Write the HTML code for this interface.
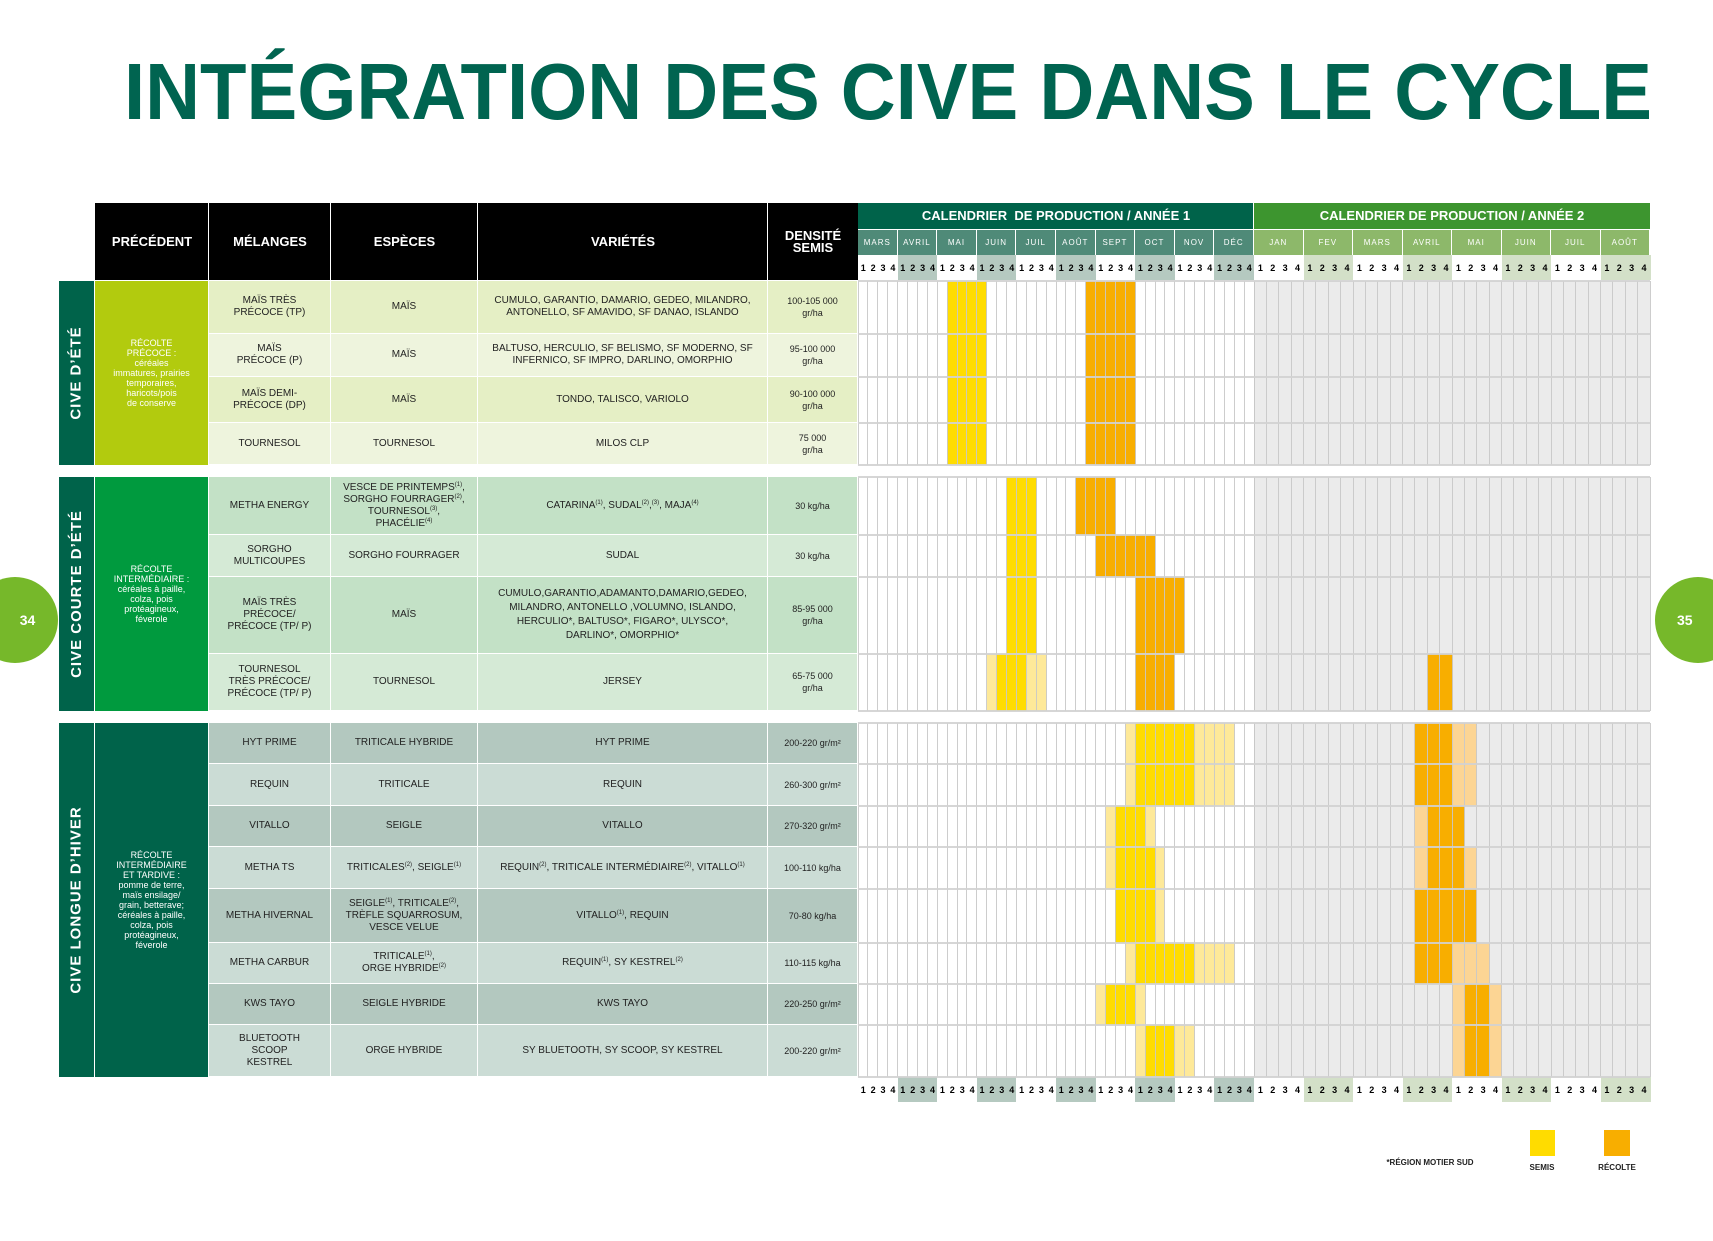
<!DOCTYPE html>
<html><head><meta charset="utf-8">
<style>
html,body{margin:0;padding:0;background:#fff;}
#c{position:relative;width:1713px;height:1241px;overflow:hidden;font-family:"Liberation Sans",sans-serif;}
.a{position:absolute;box-sizing:border-box;}
.t{display:flex;align-items:center;justify-content:center;text-align:center;color:#222;font-size:10px;line-height:12px;}
sup{font-size:6px;line-height:0;vertical-align:4px;}
.h{color:#fff;font-weight:bold;font-size:13px;line-height:12px;}
.circ{position:absolute;width:86px;height:86px;border-radius:50%;background:#76b82a;color:#fff;font-weight:bold;font-size:14px;display:flex;align-items:center;justify-content:center;}
</style></head><body>
<div id="c">
<svg class="a" style="left:0;top:0" width="1713" height="140"><text x="124" y="119" textLength="1528" lengthAdjust="spacingAndGlyphs" font-family="Liberation Sans" font-weight="bold" font-size="80" fill="#006450">INTÉGRATION DES CIVE DANS LE CYCLE</text></svg>
<div class="circ" style="left:-28px;top:577px;padding-left:25px;box-sizing:border-box;">34</div>
<div class="circ" style="left:1655px;top:577px;justify-content:flex-start;padding-left:22px;box-sizing:border-box;">35</div>
</div>
<script>
const C=document.getElementById('c');
function d(x,y,w,h,bg,html,cls,extra){const e=document.createElement('div');e.className='a '+(cls||'');e.style.cssText=`left:${x}px;top:${y}px;width:${w}px;height:${h}px;`+(bg?`background:${bg};`:'')+(extra||'');if(html)e.innerHTML='<div>'+html+'</div>';C.appendChild(e);return e;}
const X=[59,95,209,331,478,768,858];
d(95,203,763,77,'#000');
const hn=['PRÉCÉDENT','MÉLANGES','ESPÈCES','VARIÉTÉS','DENSITÉ<br>SEMIS'];
for(let i=0;i<5;i++){d(X[i+1],203,X[i+2]-X[i+1],77,null,hn[i],'t h');if(i>0)d(X[i+1]-1,203,1,77,'#fff');}
const X1=858,W1=9.9,X2=1254,W2=12.375;
d(X1,203,396,26,'#00634a','CALENDRIER&nbsp; DE PRODUCTION / ANNÉE 1','t h');
d(X2,203,396,26,'#3d952f','CALENDRIER DE PRODUCTION / ANNÉE 2','t h');
d(1253,203,1,77,'#fff');
const m1=['MARS','AVRIL','MAI','JUIN','JUIL','AOÛT','SEPT','OCT','NOV','DÉC'];
const m2=['JAN','FEV','MARS','AVRIL','MAI','JUIN','JUIL','AOÛT'];
m1.forEach((m,i)=>{d(X1+i*4*W1,229,4*W1,26,'#4f8a78',m,'t','color:#fff;font-size:8px;letter-spacing:1px;border-right:1px solid #fff;border-top:1px solid #fff;');});
m2.forEach((m,i)=>{d(X2+i*4*W2,229,4*W2,26,'#8db86a',m,'t','color:#fff;font-size:8px;letter-spacing:1px;border-right:1px solid #fff;border-top:1px solid #fff;');});
function weekRow(y,h){
 for(let i=0;i<40;i++){const hi=Math.floor(i/4)%2==1;d(X1+i*W1,y,W1+0.5,h,hi?'#b5c9c0':'#fff',String(i%4+1),'t','font-weight:bold;font-size:9px;color:#000;');}
 for(let i=0;i<32;i++){const hi=Math.floor(i/4)%2==1;d(X2+i*W2,y,W2+0.5,h,hi?'#d3e0c8':'#fff',String(i%4+1),'t','font-weight:bold;font-size:9px;color:#000;');}
}
weekRow(255,25);weekRow(1077,25);
const COL={Y:'#ffdc00',y:'#fee999',O:'#f8ae00',o:'#fcd594'};
function grid(ys,fills){
 const top=ys[0],bot=ys[ys.length-1];
 d(X1,top,396,bot-top,'#fff');d(X2,top,396,bot-top,'#ebebeb');
 for(let r=0;r<ys.length-1;r++){const f=fills[r];
  (f[0]||[]).forEach(s=>{for(let c=s[0];c<=s[1];c++)d(X1+c*W1,ys[r],W1+0.5,ys[r+1]-ys[r],COL[s[2]]);});
  (f[1]||[]).forEach(s=>{for(let c=s[0];c<=s[1];c++)d(X2+c*W2,ys[r],W2+0.5,ys[r+1]-ys[r],COL[s[2]]);});
 }
 for(let i=0;i<=40;i++)d(X1+i*W1-0.5,top,1,bot-top,'rgba(200,200,200,0.9)');
 for(let i=0;i<=32;i++)d(X2+i*W2-0.5,top,1,bot-top,'rgba(200,200,200,0.9)');
 ys.forEach(y=>{d(X1,y-1,792,2,'rgba(210,210,210,0.9)');});
}
function section(ys,stripe,prec,precBg,rows,bgs,fills){
 const top=ys[0],bot=ys[ys.length-1];
 d(59,top,35,bot-top,'#00634a','<div style="transform:rotate(-90deg);white-space:nowrap;color:#fff;font-weight:bold;font-size:15px;letter-spacing:1px;">'+stripe+'</div>','t');
 d(95,top,113,bot-top,precBg,prec,'t','color:#fff;font-size:9px;line-height:10px;padding:0 6px;');
 rows.forEach((r,i)=>{
  for(let k=0;k<4;k++){d(X[k+2],ys[i],X[k+3]-X[k+2],ys[i+1]-ys[i],bgs[i%2],r[k],'t','padding:0 4px;border-right:1px solid #fff;border-bottom:1px solid #fff;'+(k==3?'font-size:9px;':''));}
 });
 grid(ys,fills);
}
const P1='RÉCOLTE<br>PRÉCOCE :<br>céréales<br>immatures, prairies<br>temporaires,<br>haricots/pois<br>de conserve';
section([281,334,377,423,465],'CIVE D’ÉTÉ',P1,'#b2cb0e',[
 ['MAÏS TRÈS<br>PRÉCOCE (TP)','MAÏS','CUMULO, GARANTIO, DAMARIO, GEDEO, MILANDRO,<br>ANTONELLO, SF AMAVIDO, SF DANAO, ISLANDO','100-105 000<br>gr/ha'],
 ['MAÏS<br>PRÉCOCE (P)','MAÏS','BALTUSO, HERCULIO, SF BELISMO, SF MODERNO, SF<br>INFERNICO, SF IMPRO, DARLINO, OMORPHIO','95-100 000<br>gr/ha'],
 ['MAÏS DEMI-<br>PRÉCOCE (DP)','MAÏS','TONDO, TALISCO, VARIOLO','90-100 000<br>gr/ha'],
 ['TOURNESOL','TOURNESOL','MILOS CLP','75 000<br>gr/ha']],['#e5efc5','#eef4dd'],
 [0,1,2,3].map(()=>[[[9,12,'Y'],[23,27,'O']]]));
const P2='RÉCOLTE<br>INTERMÉDIAIRE :<br>céréales à paille,<br>colza, pois<br>protéagineux,<br>féverole';
section([477,535,577,654,711],'CIVE COURTE D’ÉTÉ',P2,'#009a3e',[
 ['METHA ENERGY','VESCE DE PRINTEMPS<sup>(1)</sup>,<br>SORGHO FOURRAGER<sup>(2)</sup>,<br>TOURNESOL<sup>(3)</sup>,<br>PHACÉLIE<sup>(4)</sup>','CATARINA<sup>(1)</sup>, SUDAL<sup>(2)</sup>,<sup>(3)</sup>, MAJA<sup>(4)</sup>','30 kg/ha'],
 ['SORGHO<br>MULTICOUPES','SORGHO FOURRAGER','SUDAL','30 kg/ha'],
 ['MAÏS TRÈS<br>PRÉCOCE/<br>PRÉCOCE (TP/ P)','MAÏS','<div style="line-height:14px">CUMULO,GARANTIO,ADAMANTO,DAMARIO,GEDEO,<br>MILANDRO, ANTONELLO ,VOLUMNO, ISLANDO,<br>HERCULIO*, BALTUSO*, FIGARO*, ULYSCO*,<br>DARLINO*, OMORPHIO*</div>','85-95 000<br>gr/ha'],
 ['TOURNESOL<br>TRÈS PRÉCOCE/<br>PRÉCOCE (TP/ P)','TOURNESOL','JERSEY','65-75 000<br>gr/ha']],['#c3e1c6','#d5ead6'],
 [[[[15,17,'Y'],[22,25,'O']]],[[[15,17,'Y'],[24,29,'O']]],[[[15,17,'Y'],[28,32,'O']]],
  [[[13,13,'y'],[14,16,'Y'],[17,18,'y'],[28,31,'O']],[[14,15,'O']]]]);
const P3='RÉCOLTE<br>INTERMÉDIAIRE<br>ET TARDIVE :<br>pomme de terre,<br>maïs ensilage/<br>grain, betterave;<br>céréales à paille,<br>colza, pois<br>protéagineux,<br>féverole';
const A=[[[27,27,'y'],[28,33,'Y'],[34,37,'y']],[[13,15,'O'],[16,17,'o']]];
section([723,764,806,847,889,943,984,1025,1077],'CIVE LONGUE D’HIVER',P3,'#00634a',[
 ['HYT PRIME','TRITICALE HYBRIDE','HYT PRIME','200-220 gr/m²'],
 ['REQUIN','TRITICALE','REQUIN','260-300 gr/m²'],
 ['VITALLO','SEIGLE','VITALLO','270-320 gr/m²'],
 ['METHA TS','TRITICALES<sup>(2)</sup>, SEIGLE<sup>(1)</sup>','REQUIN<sup>(2)</sup>, TRITICALE INTERMÉDIAIRE<sup>(2)</sup>, VITALLO<sup>(1)</sup>','100-110 kg/ha'],
 ['METHA HIVERNAL','SEIGLE<sup>(1)</sup>, TRITICALE<sup>(2)</sup>,<br>TRÈFLE SQUARROSUM,<br>VESCE VELUE','VITALLO<sup>(1)</sup>, REQUIN','70-80 kg/ha'],
 ['METHA CARBUR','TRITICALE<sup>(1)</sup>,<br>ORGE HYBRIDE<sup>(2)</sup>','REQUIN<sup>(1)</sup>, SY KESTREL<sup>(2)</sup>','110-115 kg/ha'],
 ['KWS TAYO','SEIGLE HYBRIDE','KWS TAYO','220-250 gr/m²'],
 ['BLUETOOTH<br>SCOOP<br>KESTREL','ORGE HYBRIDE','SY BLUETOOTH, SY SCOOP, SY KESTREL','200-220 gr/m²']],['#b3c8bf','#cbdcd5'],
 [A,A,
  [[[25,25,'y'],[26,28,'Y'],[29,29,'y']],[[13,13,'o'],[14,16,'O']]],
  [[[25,25,'y'],[26,29,'Y'],[30,30,'y']],[[13,13,'o'],[14,16,'O'],[17,17,'o']]],
  [[[26,29,'Y'],[30,30,'y']],[[13,17,'O']]],
  [[[27,27,'y'],[28,33,'Y'],[34,37,'y']],[[13,15,'O'],[16,18,'o']]],
  [[[24,24,'y'],[25,27,'Y'],[28,28,'y']],[[16,16,'o'],[17,18,'O'],[19,19,'o']]],
  [[[28,28,'y'],[29,31,'Y'],[32,33,'y']],[[16,16,'o'],[17,18,'O'],[19,19,'o']]]]);
d(1530,1130,25,26,'#ffdc00');d(1604,1130,26,26,'#f8ae00');
d(1370,1155,120,16,null,'*RÉGION MOTIER SUD','t','font-size:8px;font-weight:bold;color:#222;');
d(1512,1161,60,14,null,'SEMIS','t','font-size:8px;font-weight:bold;color:#222;');
d(1587,1161,60,14,null,'RÉCOLTE','t','font-size:8px;font-weight:bold;color:#222;');
</script>
</body></html>
